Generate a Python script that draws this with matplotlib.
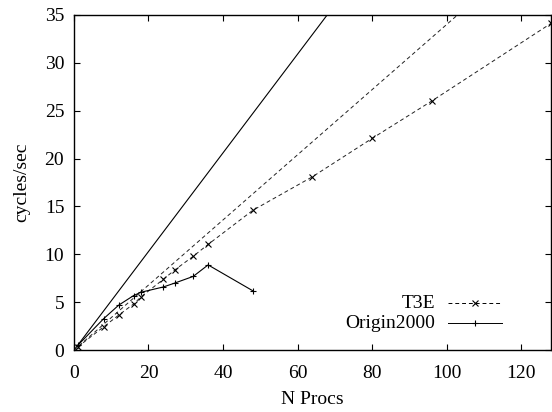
import matplotlib
matplotlib.use("Agg")
import matplotlib.pyplot as plt

# measured performance
t3e_procs = [1, 8, 12, 16, 18, 24, 27, 32, 36, 48, 64, 80, 96, 128]
t3e_rate = [0.34, 2.45, 3.66, 4.82, 5.57, 7.4, 8.36, 9.8, 11.04, 14.6, 18.1, 22.1, 26.0, 34.1]

o2k_procs = [1, 8, 12, 16, 18, 24, 27, 32, 36, 48]
o2k_rate = [0.5, 3.3, 4.7, 5.7, 6.05, 6.6, 7.0, 7.7, 8.9, 6.2]

# ideal (linear) scaling lines
ideal_procs = [0, 128]
o2k_ideal = [0.0, 65.9]
t3e_ideal = [0.0, 43.5]

x_ticks = [0, 20, 40, 60, 80, 100, 120]
y_ticks = [0, 5, 10, 15, 20, 25, 30, 35]

plt.rcParams["font.family"] = ["Liberation Serif", "DejaVu Serif"]
fs = 14
fig = plt.figure(figsize=(5.52, 4.12), dpi=100)
ax = fig.add_axes((0.134, 0.150, 0.864, 0.814))

dash = (0, (4, 3))
ax.plot(ideal_procs, o2k_ideal, color="black", lw=0.8)
ax.plot(ideal_procs, t3e_ideal, color="#222222", lw=0.7, ls=dash)
ax.plot(t3e_procs, t3e_rate, color="#222222", lw=0.7, ls=dash,
        marker="x", ms=5, mew=0.8, mec="black")
ax.plot(o2k_procs, o2k_rate, color="black", lw=0.8,
        marker="+", ms=4.5, mew=0.8)

ax.set_xlim(0, 128)
ax.set_ylim(0, 35)
ax.set_xticks(x_ticks)
ax.set_yticks(y_ticks)
ax.tick_params(direction="in", length=4, width=0.8, labelsize=fs,
               top=True, right=True)
ax.tick_params(axis="y", pad=7)
ax.tick_params(axis="x", pad=11)
for s in ax.spines.values():
    s.set_linewidth(1.0)
ax.set_xlabel("N Procs", fontsize=fs, labelpad=6)
ax.set_ylabel("cycles/sec", fontsize=fs, labelpad=10)

# gnuplot-style key: label right-aligned, sample to its right
key = [("T3E", dash, "x", 4.5, 0.140), ("Origin2000", "-", "+", 4, 0.081)]
for label, ls, mk, ms, yk in key:
    ax.text(0.757, yk, label, ha="right", va="center", fontsize=fs,
            transform=ax.transAxes)
    ax.plot([0.784, 0.897], [yk, yk], color="black", lw=0.7, ls=ls,
            transform=ax.transAxes, clip_on=False)
    ax.plot([0.841], [yk], color="black", marker=mk, ms=ms, mew=0.8,
            transform=ax.transAxes, clip_on=False)

fig.savefig("out.png", dpi=100)
